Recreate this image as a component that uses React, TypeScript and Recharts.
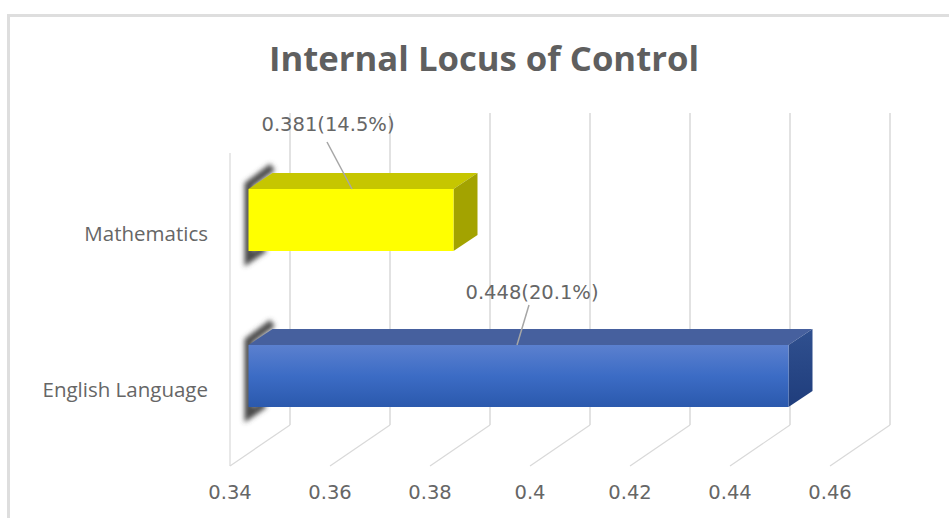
import React from 'react';
import { BarChart, Bar, XAxis, YAxis, LabelList, CartesianGrid } from 'recharts';

const categories = ['Mathematics', 'English Language'];
const coefficients = [0.381, 0.448];
const percents = ['14.5%', '20.1%'];
const xTicks = [0.34, 0.36, 0.38, 0.4, 0.42, 0.44, 0.46];

const chartData = categories.map((name, i) => ({
    name,
    value: coefficients[i],
    label: `${coefficients[i]}(${percents[i]})`,
}));

const FONT = '"DejaVu Sans", sans-serif';
const LABEL_FONT = '"Open Sans", sans-serif';
const TEXT_COLOR = '#666666';
const GRID_COLOR = '#d9d9d9';
const TEXT_SIZE = 19.5;

// fake 3D: how far the front plane and the back wall sit from the axis position
const BAR_SHIFT = 18.5;
const DEPTH_X = 24;
const DEPTH_Y = 16;
const WALL_SHIFT = 60;
const FLOOR_FRONT = 466;
const FLOOR_BACK = 425;
const WALL_TOP = 113;
const LEFT_WALL_TOP = 153;

const faces = [
    { front: '#ffff00', top: '#c6c600', side: '#a3a300' },
    { front: 'url(#blueFront)', top: '#46609e', side: 'url(#blueSide)' },
];

// data label placement, relative to the bar's origin
const labelLayout = [
    { dx: 98, dy: -65, x1: 97, y1: -47, x2: 122, y2: 0 },
    { dx: 302, dy: -53, x1: 299, y1: -40, x2: 287, y2: 0 },
];

function Bar3D(props: any) {
    const { x, y, width, height, index } = props;
    const left = x + BAR_SHIFT;
    const right = left + width;
    const bottom = y + height;
    const face = faces[index];
    return (
        <g>
            <path
                d={`M${left + 24} ${y - 22} L${left} ${y - 4} L${left} ${bottom + 8} L${left + 16} ${bottom - 3}`}
                fill="none"
                stroke="#4a4a4a"
                strokeWidth={8}
                filter="url(#edgeBlur)"
            />
            <polygon
                points={`${left},${y} ${left + DEPTH_X},${y - DEPTH_Y} ${right + DEPTH_X},${y - DEPTH_Y} ${right},${y}`}
                fill={face.top}
            />
            <polygon
                points={`${right},${y} ${right + DEPTH_X},${y - DEPTH_Y} ${right + DEPTH_X},${bottom - DEPTH_Y} ${right},${bottom}`}
                fill={face.side}
            />
            <rect x={left} y={y} width={width} height={height} fill={face.front} />
        </g>
    );
}

// drawn through CartesianGrid so the wall and floor lines stay behind the bars
function WallLine(props: any) {
    const { x1, index } = props;
    return (
        <g>
            {index === 0 && (
                <line x1={x1} y1={LEFT_WALL_TOP} x2={x1} y2={FLOOR_FRONT} stroke={GRID_COLOR} strokeWidth={1.2} />
            )}
            <line x1={x1 + WALL_SHIFT} y1={WALL_TOP} x2={x1 + WALL_SHIFT} y2={FLOOR_BACK} stroke={GRID_COLOR} strokeWidth={1.5} />
            <line x1={x1} y1={FLOOR_FRONT} x2={x1 + WALL_SHIFT} y2={FLOOR_BACK} stroke={GRID_COLOR} strokeWidth={1.2} />
        </g>
    );
}

function ValueTick(props: any) {
    const { x, payload } = props;
    return (
        <text x={x} y={492} textAnchor="middle" dominantBaseline="central" fontFamily={FONT} fontSize={TEXT_SIZE} fill={TEXT_COLOR}>
            {String(payload.value)}
        </text>
    );
}

function CategoryTick(props: any) {
    const { y, payload } = props;
    return (
        <text x={208} y={y + 13} textAnchor="end" dominantBaseline="central" fontFamily={LABEL_FONT} fontSize={20.5} fill={TEXT_COLOR}>
            {payload.value}
        </text>
    );
}

function LeaderLabel(props: any) {
    const { x, y, value, index } = props;
    const pos = labelLayout[index];
    return (
        <g>
            <line x1={x + pos.x1} y1={y + pos.y1} x2={x + pos.x2} y2={y + pos.y2} stroke="#a6a6a6" strokeWidth={1.5} />
            <text x={x + pos.dx} y={y + pos.dy} textAnchor="middle" dominantBaseline="central" fontFamily={FONT} fontSize={TEXT_SIZE} fill={TEXT_COLOR}>
                {value}
            </text>
        </g>
    );
}

export default function App() {
    return (
        <div style={{ position: 'absolute', left: 0, top: 0, width: 949, height: 518, background: '#fff' }}>
            <div
                style={{
                    position: 'absolute',
                    left: 7,
                    top: 14,
                    width: 942,
                    height: 504,
                    boxSizing: 'border-box',
                    borderTop: '3px solid #dedede',
                    borderLeft: '3px solid #dedede',
                }}
            />
            <div style={{ position: 'absolute', left: 0, top: 0 }}>
                <BarChart
                    width={949}
                    height={518}
                    data={chartData}
                    layout="vertical"
                    margin={{ top: 142, right: 119, bottom: 0, left: 0 }}
                    barCategoryGap={0}
                >
                    <defs>
                        <linearGradient id="blueFront" x1="0" y1="0" x2="0" y2="1">
                            <stop offset="0%" stopColor="#5b80cf" />
                            <stop offset="50%" stopColor="#3c6cc5" />
                            <stop offset="100%" stopColor="#2b59ad" />
                        </linearGradient>
                        <linearGradient id="blueSide" x1="0" y1="0" x2="0" y2="1">
                            <stop offset="0%" stopColor="#30508f" />
                            <stop offset="100%" stopColor="#1f3d7c" />
                        </linearGradient>
                        <filter id="edgeBlur" x="-50%" y="-20%" width="200%" height="140%">
                            <feGaussianBlur stdDeviation="2.4" />
                        </filter>
                    </defs>
                    <text x={484} y={57} textAnchor="middle" dominantBaseline="central" fontFamily={LABEL_FONT} fontSize={34.7} fontWeight={700} fill="#5f5f5f">
                        Internal Locus of Control
                    </text>
                    <CartesianGrid horizontal={false} verticalValues={xTicks} vertical={(p: any) => <WallLine key={p.index} {...p} />} />
                    <XAxis
                        type="number"
                        domain={[0.34, 0.46]}
                        ticks={xTicks}
                        interval={0}
                        height={64}
                        axisLine={false}
                        tickLine={false}
                        tick={<ValueTick />}
                    />
                    <YAxis
                        type="category"
                        dataKey="name"
                        width={230}
                        axisLine={false}
                        tickLine={false}
                        tick={<CategoryTick />}
                    />
                    <Bar dataKey="value" barSize={62} isAnimationActive={false} shape={<Bar3D />}>
                        <LabelList dataKey="label" content={<LeaderLabel />} />
                    </Bar>
                </BarChart>
            </div>
        </div>
    );
}
